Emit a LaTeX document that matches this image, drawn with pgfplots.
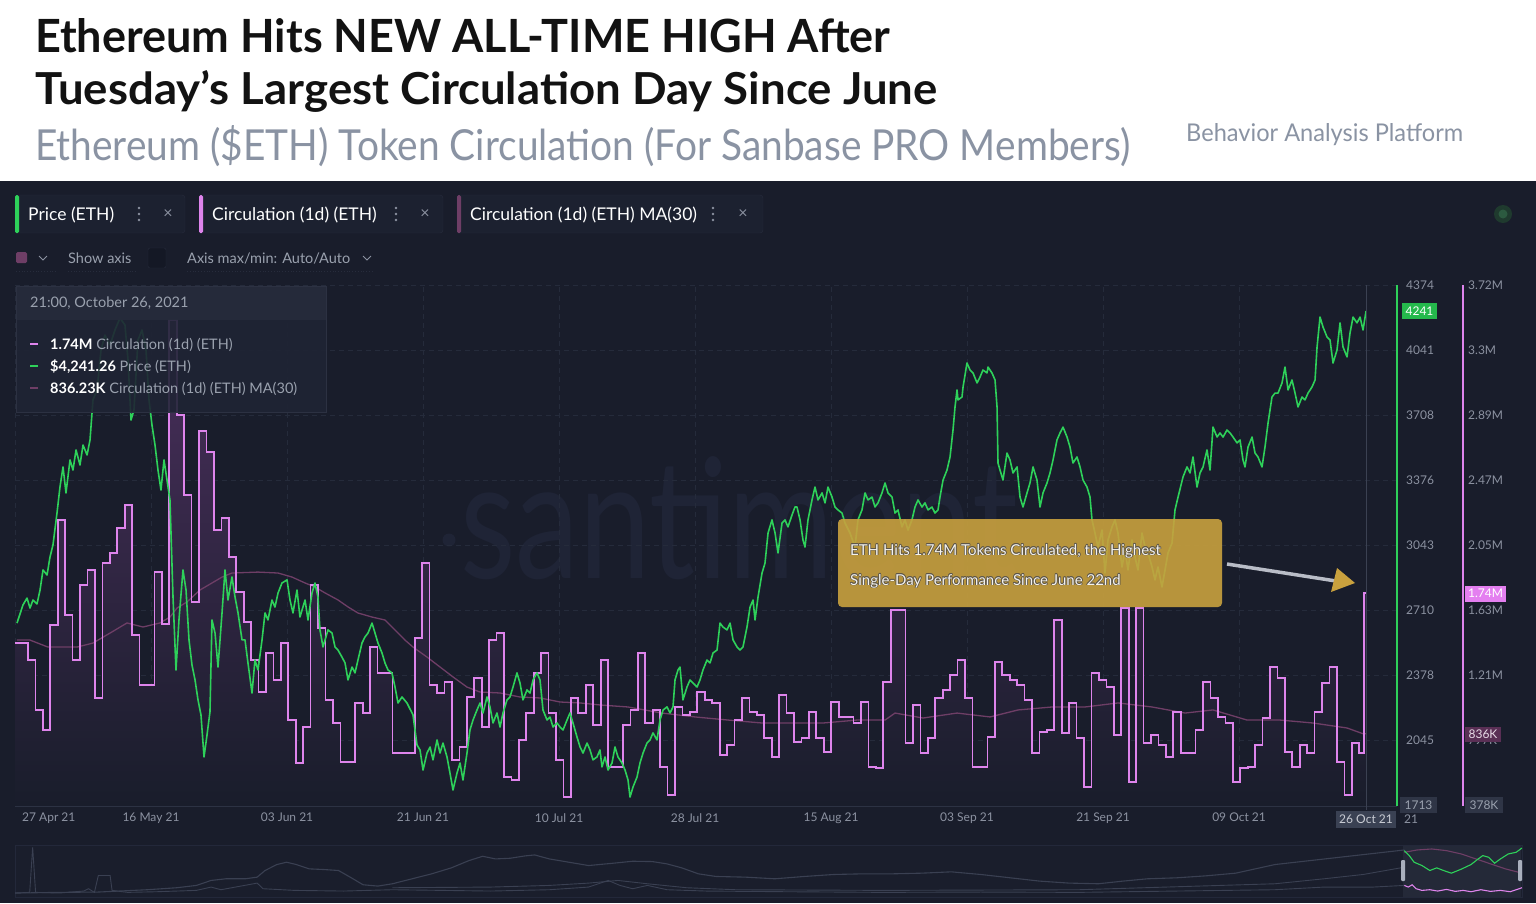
\documentclass[border=0pt]{standalone}
\usepackage{fontspec}
\setmainfont{Lato}
\usepackage{graphicx}
\usepackage{pgfplots}
\usepackage{pgfplotstable}
\pgfplotsset{compat=1.18}

\definecolor{bgdark}{HTML}{191D2B}
\definecolor{chipbg}{HTML}{1C2130}
\definecolor{chipborder}{HTML}{272C3C}
\definecolor{gridc}{HTML}{252B3B}
\definecolor{axisc}{HTML}{2C3243}
\definecolor{ticktext}{HTML}{8C92A1}
\definecolor{ethgreen}{HTML}{2ED15A}
\definecolor{badgegreen}{HTML}{25B94C}
\definecolor{circpink}{HTML}{DE84EC}
\definecolor{mamauve}{HTML}{6E3E66}
\definecolor{gold}{HTML}{C9A13E}
\definecolor{subgray}{HTML}{8A93A3}
\definecolor{titleblack}{HTML}{121212}
\definecolor{fillpurple}{HTML}{4A2F5C}
\definecolor{tipbg}{HTML}{1F2434}
\definecolor{tiphead}{HTML}{262B3B}
\definecolor{tiptext}{HTML}{9AA1AE}
\definecolor{navwin}{HTML}{242938}
\definecolor{navgray}{HTML}{3A4052}
\definecolor{wmark}{HTML}{1F2436}
\definecolor{statca}{HTML}{1F3A2E}
\definecolor{statcb}{HTML}{2C5A40}
\definecolor{cursorc}{HTML}{3B4152}
\definecolor{badgegray}{HTML}{2F3546}
\definecolor{badgepink}{HTML}{E47FF0}
\definecolor{badgemauve}{HTML}{5A2F55}
\definecolor{badgemtext}{HTML}{E8DCE8}
\definecolor{datebox}{HTML}{3A4153}
\definecolor{dateboxtext}{HTML}{C9CCD4}
\definecolor{outlinec}{HTML}{5C5548}
\definecolor{anntext}{HTML}{F4F2EC}
\definecolor{arrowgray}{HTML}{B9BDC7}
\definecolor{tipborder}{HTML}{2C3142}
\definecolor{navbg}{HTML}{1A1E2C}
\definecolor{navborder}{HTML}{23283A}
\definecolor{handlec}{HTML}{A9AFBD}
\definecolor{checkbg}{HTML}{141825}

\newcommand\tickfont{\fontsize{12}{14}\selectfont}
\newcommand\uifont{\fontsize{14.5}{17}\selectfont}

\pgfplotstableread{
d p
0.67 2644
1.48 2737
2.02 2772
2.42 2721
2.82 2762
3.36 2742
3.77 2813
4.17 2916
4.71 2890
5.11 2982
5.51 3044
6.05 3207
6.45 3340
6.86 3443
7.26 3310
7.80 3479
8.20 3427
8.61 3530
9.14 3453
9.55 3555
10.09 3504
10.49 3581
10.89 3786
11.43 3837
11.97 4041
12.50 4118
13.18 4067
13.85 4144
14.52 4205
15.19 4169
15.60 3990
16.00 3683
16.40 3734
16.94 4093
17.48 4144
18.02 4041
18.42 3786
18.82 3658
19.23 3555
19.63 3427
20.03 3325
20.44 3479
20.84 3376
21.24 3274
21.65 2777
22.05 2404
22.45 2660
22.99 2916
23.40 2813
23.80 2558
24.20 2430
24.61 2353
25.01 2251
25.41 2174
25.82 1959
26.22 2071
26.62 2190
26.89 2660
27.30 2593
27.70 2419
28.24 2696
28.64 2916
29.04 2762
29.58 2880
29.99 2777
30.39 2696
30.93 2558
31.33 2558
31.73 2440
32.27 2286
32.67 2455
33.08 2404
33.62 2558
34.02 2696
34.42 2660
34.96 2762
35.36 2726
35.77 2798
36.30 2849
36.98 2865
37.38 2762
37.78 2696
38.32 2813
38.72 2675
39.40 2762
39.80 2660
40.34 2798
40.74 2849
41.14 2777
41.41 2609
41.82 2522
42.49 2609
43.03 2593
43.43 2522
43.83 2506
44.37 2470
44.78 2440
45.18 2353
45.72 2419
46.12 2389
46.52 2455
47.06 2542
47.46 2573
47.87 2593
48.41 2644
48.81 2593
49.21 2542
49.75 2491
50.15 2440
50.56 2404
51.09 2389
51.50 2317
51.90 2235
52.44 2266
53.11 2235
53.92 2174
54.46 2020
54.86 1995
55.27 1892
55.80 1979
56.21 2010
56.61 1944
57.15 2046
57.55 1979
57.95 2030
58.49 1959
58.89 1877
59.30 1790
59.84 1877
60.24 1928
60.64 1841
61.18 1979
61.58 2097
61.99 2148
62.52 2199
62.93 2235
63.33 2184
63.87 2266
64.27 2215
64.68 2133
65.21 2184
65.62 2112
66.02 2184
66.56 2251
66.96 2266
67.37 2317
67.90 2389
68.31 2337
68.71 2251
69.25 2302
69.65 2286
70.06 2353
70.59 2389
71.00 2353
71.40 2199
71.94 2148
72.34 2163
72.75 2112
73.28 2133
73.69 2112
74.09 2097
74.63 2148
75.03 2184
75.43 2133
75.97 2061
76.38 2010
76.78 1979
77.32 2030
77.72 1995
78.12 1944
78.66 1959
79.06 1995
79.33 1908
79.74 1959
80.14 1892
80.68 1928
81.08 2010
81.48 1959
82.02 1928
82.43 1892
82.83 1841
83.10 1754
83.50 1805
84.04 1856
84.44 1928
84.85 1979
85.38 2030
85.79 2046
86.19 2082
86.73 2046
87.13 2148
87.54 2199
88.07 2215
88.48 2184
88.88 2215
89.15 2353
89.55 2404
89.82 2419
90.22 2251
90.76 2317
91.17 2353
91.57 2337
92.11 2317
92.51 2353
92.91 2404
93.45 2455
93.86 2440
94.26 2491
94.80 2506
95.20 2644
95.60 2624
96.14 2609
96.55 2644
96.95 2558
97.49 2522
97.89 2506
98.29 2522
98.83 2624
99.24 2726
99.64 2762
99.91 2660
100.31 2777
100.85 2900
101.25 2951
101.66 3105
102.19 3172
102.60 3105
103.00 3003
103.54 3156
103.94 3172
104.34 3136
104.88 3197
105.28 3238
105.55 3238
105.96 3172
106.36 3069
106.63 3033
107.03 3172
107.57 3274
107.97 3340
108.38 3274
108.92 3310
109.32 3259
109.72 3340
110.26 3289
110.66 3238
111.07 3223
111.60 3207
112.01 3156
112.68 3105
113.35 3033
113.75 3172
114.29 3223
114.70 3310
115.10 3274
115.64 3289
116.04 3238
116.44 3259
116.98 3310
117.39 3361
117.79 3310
118.33 3289
118.73 3207
119.13 3223
119.67 3136
120.07 3172
120.48 3120
121.01 3172
121.42 3238
121.82 3274
122.36 3238
122.76 3259
123.17 3223
123.70 3238
124.11 3207
124.51 3223
124.78 3289
125.19 3376
125.72 3427
126.13 3494
126.53 3632
126.80 3750
127.07 3837
127.20 3786
127.74 3801
127.88 3852
128.41 3975
128.82 3939
129.22 3924
129.76 3873
130.16 3903
130.56 3939
131.10 3924
131.24 3954
131.77 3924
132.18 3888
132.45 3750
132.58 3463
132.85 3427
133.25 3376
133.79 3514
134.19 3479
134.60 3412
135.14 3443
135.54 3289
135.94 3238
136.48 3310
136.88 3361
137.29 3443
137.82 3376
138.23 3238
138.63 3310
139.17 3361
139.57 3412
139.98 3479
140.51 3581
140.92 3617
141.32 3647
141.86 3596
142.26 3545
142.66 3463
143.20 3494
143.61 3443
144.01 3376
144.55 3340
144.95 3289
145.22 3172
145.62 3105
146.02 3033
146.56 3120
146.97 2900
147.37 3069
147.91 3136
148.31 3172
148.71 3105
149.25 2931
149.66 3018
150.06 2916
150.60 3069
151.00 2982
151.40 2916
151.94 3105
152.35 3033
152.75 3003
153.29 2931
153.69 2865
154.09 2931
154.63 2829
155.04 2916
155.44 3003
155.98 3054
156.38 3223
156.79 3289
157.46 3392
157.99 3443
158.40 3412
158.80 3494
159.34 3340
159.74 3412
160.15 3443
160.68 3530
161.09 3427
161.49 3647
162.03 3596
162.43 3617
162.84 3596
163.37 3632
163.78 3617
164.18 3596
164.72 3566
165.12 3581
165.52 3479
165.79 3443
166.20 3545
166.74 3596
167.14 3514
167.54 3494
168.08 3443
168.48 3545
168.89 3668
169.42 3801
169.83 3821
170.23 3821
170.77 3873
171.17 3954
171.58 3837
172.11 3888
172.52 3821
172.92 3750
173.46 3801
173.86 3786
174.27 3821
174.80 3852
175.21 3888
175.48 4057
175.88 4210
176.28 4159
176.82 4108
177.22 4093
177.63 3975
178.16 4041
178.57 4180
178.97 4057
179.51 4006
179.91 4128
180.32 4210
180.85 4180
181.26 4210
181.66 4144
182.07 4241
}\pricetable

\pgfplotstableread{
d c
0.15 1419
1.15 1419
2.15 1310
3.15 989
4.15 860
5.15 1535
6.15 2210
7.15 1599
8.15 1310
9.15 1792
10.15 1888
11.15 1066
12.15 1933
13.15 1998
14.15 2158
15.15 2306
16.15 1471
17.15 1149
18.15 1149
19.15 1875
20.15 1541
21.15 3495
22.15 2885
23.15 2370
24.15 1683
25.15 2782
26.15 2647
27.15 2145
28.15 2223
29.15 1972
30.15 1747
31.15 1554
32.15 1310
33.15 1104
34.15 1355
35.15 1181
36.15 1419
37.15 924
38.15 648
39.15 879
40.15 1792
41.15 1516
42.15 1053
43.15 905
44.15 654
45.15 654
46.15 1034
47.15 969
48.15 1393
49.15 1226
50.15 1226
51.15 712
52.15 712
53.15 712
54.15 1451
55.15 1933
56.15 1149
57.15 1098
58.15 1169
59.15 667
60.15 751
61.15 1072
62.15 1194
63.15 879
64.15 1438
65.15 1483
66.15 558
67.15 539
68.15 796
69.15 969
70.15 1226
71.15 1355
72.15 969
73.15 667
74.15 429
75.15 1066
76.15 969
77.15 1149
78.15 892
79.15 1310
80.15 622
81.15 622
82.15 892
83.15 989
84.15 1355
85.15 905
86.15 989
87.15 622
88.15 442
89.15 1008
90.15 956
91.15 976
92.15 1104
93.15 1053
94.15 1034
95.15 699
96.15 764
97.15 924
98.15 1066
99.15 976
100.15 956
101.15 809
102.15 686
103.15 1085
104.15 969
105.15 783
106.15 809
107.15 976
108.15 809
109.15 719
110.15 1040
111.15 944
112.15 944
113.15 905
114.15 1040
115.15 622
116.15 616
117.15 1169
118.15 1631
119.15 1631
120.15 776
121.15 1021
122.15 712
123.15 809
124.15 1066
125.15 1117
126.15 1214
127.15 1310
128.15 1066
129.15 622
130.15 622
131.15 815
132.15 1297
133.15 1214
134.15 1181
135.15 1149
136.15 1053
137.15 712
138.15 847
139.15 860
140.15 1567
141.15 841
142.15 1034
143.15 809
144.15 494
145.15 1226
146.15 1181
147.15 1136
148.15 828
149.15 1644
150.15 526
151.15 1644
152.15 776
153.15 828
154.15 764
155.15 686
156.15 976
157.15 712
158.15 712
159.15 860
160.15 1169
161.15 1066
162.15 944
163.15 905
164.15 526
165.15 616
166.15 622
167.15 764
168.15 937
169.15 1265
170.15 1194
171.15 719
172.15 622
173.15 764
174.15 712
175.15 976
176.15 1162
177.15 1265
178.15 654
179.15 442
180.15 776
181.15 712
181.80 1740
182.10 1740
}\circtable

\pgfplotstableread{
d m
0.67 1438
2.42 1438
4.84 1393
8.74 1393
10.89 1419
13.18 1483
15.46 1548
17.61 1522
19.90 1548
21.24 1586
22.19 1644
23.53 1683
25.28 1760
26.89 1805
28.24 1843
29.58 1869
33.08 1875
35.77 1869
37.65 1843
39.40 1805
40.74 1779
42.09 1741
43.83 1696
45.18 1651
46.52 1612
48.41 1586
50.15 1567
51.50 1503
52.84 1438
53.92 1393
55.80 1329
57.55 1265
59.30 1201
61.18 1136
62.93 1104
65.62 1098
68.31 1072
71.00 1066
73.69 1040
76.38 1034
79.06 1021
82.83 1008
87.40 969
91.84 944
96.28 924
100.85 905
105.28 905
109.05 905
113.62 924
117.39 924
118.73 969
122.49 937
127.07 969
131.51 944
135.27 989
139.84 1008
144.28 1008
148.72 1034
153.29 1008
157.73 969
161.49 989
166.06 924
170.50 924
174.94 905
179.51 873
181.66 836
182.07 836
}\matable

\begin{document}
\begin{tikzpicture}[x=1pt,y=-1pt]
\path[use as bounding box] (0,0) rectangle (1536,903);
\fill[white] (0,0) rectangle (1536,181);
\fill[bgdark] (0,181) rectangle (1536,903);

% ---------- header ----------
\node[anchor=base west, inner sep=0pt, text=titleblack] at (35,52)
  {\resizebox{855pt}{34pt}{\fontsize{40}{48}\selectfont\bfseries Ethereum Hits NEW ALL-TIME HIGH After}};
\node[anchor=base west, inner sep=0pt, text=titleblack] at (35,104)
  {\resizebox{902pt}{34pt}{\fontsize{40}{48}\selectfont\bfseries Tuesday’s Largest Circulation Day Since June}};
\node[anchor=base west, inner sep=0pt, text=subgray] at (35,160)
  {\resizebox{1095pt}{35pt}{\fontsize{40}{48}\selectfont Ethereum (\$ETH) Token Circulation (For Sanbase PRO Members)}};
\node[anchor=base west, inner sep=0pt, text=subgray] at (1186,141)
  {\resizebox{277pt}{18pt}{\fontsize{24}{28}\selectfont Behavior Analysis Platform}};

% ---------- chips ----------
\foreach \xa/\xb/\col/\lab/\xd/\xx in {15/185/ethgreen/{Price (ETH)}/139/168,
    199/443/circpink/{Circulation (1d) (ETH)}/396/425,
    457/763/mamauve/{Circulation (1d) (ETH) MA(30)}/713/743}{
  \filldraw[fill=chipbg, draw=chipborder, rounded corners=3pt] (\xa,195) rectangle (\xb,233);
  \fill[\col, rounded corners=1.5pt] (\xa,195) rectangle (\xa+4,233);
  \node[anchor=base west, inner sep=0pt, text=white] at (\xa+13,220) {\fontsize{17.5}{20}\selectfont \lab};
  \fill[ticktext] (\xd,208) circle (1.3) (\xd,214) circle (1.3) (\xd,220) circle (1.3);
  \node[text=ticktext, inner sep=0pt] at (\xx,214) {\fontsize{16}{18}\selectfont ×};
}
% second row
\fill[mamauve, rounded corners=1.5pt] (16,252) rectangle (27,263);
\draw[ticktext, line width=0.9pt] (39,256) -- (43,260) -- (47,256);
\node[anchor=base west, inner sep=0pt, text=tiptext] at (68,263) {\uifont Show axis};
\filldraw[fill=checkbg, draw=chipborder, rounded corners=2pt] (148,248) rectangle (166,268);
\node[anchor=base west, inner sep=0pt, text=tiptext] at (187,263) {\uifont Axis max/min: Auto/Auto};
\draw[ticktext, line width=0.9pt] (363,256) -- (367,260) -- (371,256);
\draw[chipborder, dotted, line width=0.8pt] (16,271) -- (56,271) (68,271) -- (136,271) (187,271) -- (374,271);
% status circle
\fill[statca] (1503,214) circle (9);
\fill[statcb] (1503,214) circle (4.5);

% ---------- watermark ----------
\fill[wmark] (449,540) circle (6.5);
\node[anchor=base west, inner sep=0pt, text=wmark] at (460,578)
  {\scalebox{1}[1.3]{\fontsize{128}{130}\selectfont santiment}};

\begin{scope}[x=1cm,y=1cm]
% ---------- grid / x axis ----------
\begin{axis}[at={(15pt,-805pt)}, anchor=south west, scale only axis,
  width=1382pt, height=520pt,
  xmin=0.403, xmax=186.23, ymin=1713, ymax=4374,
  axis line style={draw=none}, major tick length=0pt,
  xtick={18.69,36.98,55.26,73.55,91.84,110.13,128.41,146.70,164.99},
  xticklabels={16 May 21,03 Jun 21,21 Jun 21,10 Jul 21,28 Jul 21,15 Aug 21,03 Sep 21,21 Sep 21,09 Oct 21},
  extra x ticks={0.403}, extra x tick labels={27 Apr 21},
  extra x tick style={grid=major, xticklabel style={anchor=north west, xshift=7pt}},
  ytick={2045,2378,2710,3043,3376,3708,4041,4374}, yticklabels={},
  xmajorgrids, ymajorgrids,
  major grid style={draw=gridc, dash pattern=on 5pt off 4pt, line width=0.8pt},
  xticklabel style={font=\tickfont, text=ticktext, inner sep=0pt, yshift=-8pt},
]
\addplot[draw=none, forget plot] coordinates {(1,2000)};
\end{axis}

% ---------- circulation axis ----------
\begin{axis}[at={(15pt,-805pt)}, anchor=south west, scale only axis,
  width=1448pt, height=520pt,
  xmin=0.403, xmax=195.10, ymin=378, ymax=3720,
  axis line style={draw=none}, major tick length=0pt,
  xtick=\empty,
  ytick={796,1213,1631,2049,2467,2885,3302,3720},
  yticklabels={797K,1.21M,1.63M,2.05M,2.47M,2.89M,3.3M,3.72M},
  yticklabel pos=right,
  yticklabel style={font=\tickfont, text=ticktext, anchor=west, inner sep=0pt, xshift=5pt},
]
\addplot[const plot, draw=none, top color=fillpurple, bottom color=bgdark, forget plot]
  table[x=d, y=c] {\circtable} \closedcycle;
\addplot[mamauve, line width=1.3pt, forget plot] table[x=d, y=m] {\matable};
\addplot[const plot, circpink, line width=1.7pt, forget plot] table[x=d, y=c] {\circtable};
\end{axis}

% ---------- price axis ----------
\begin{axis}[at={(15pt,-805pt)}, anchor=south west, scale only axis,
  width=1382pt, height=520pt,
  xmin=0.403, xmax=186.23, ymin=1713, ymax=4374,
  axis line style={draw=none}, major tick length=0pt,
  xtick=\empty,
  ytick={2045,2378,2710,3043,3376,3708,4041,4374},
  yticklabels={2045,2378,2710,3043,3376,3708,4041,4374},
  yticklabel pos=right,
  yticklabel style={font=\tickfont, text=ticktext, anchor=west, inner sep=0pt, xshift=9pt},
]
\addplot[ethgreen, line width=1.6pt, line join=round, forget plot] table[x=d, y=p] {\pricetable};
\end{axis}
\end{scope}

% axis lines, cursor
\draw[axisc, line width=1pt] (15,806) -- (1397,806);
\draw[cursorc, line width=0.8pt] (1366,285) -- (1366,810);
\draw[ethgreen, line width=1.5pt] (1397,285) -- (1397,806);
\draw[circpink, line width=1.5pt] (1463,285) -- (1463,806);

% badges
\node[fill=badgegreen, text=white, inner sep=0pt, minimum width=35pt, minimum height=16pt] at (1419.5,311) {\tickfont 4241};
\node[fill=badgegray, text=tiptext, inner sep=0pt, minimum width=37pt, minimum height=16pt] at (1418.5,805) {\tickfont 1713};
\node[fill=badgepink, text=white, inner sep=0pt, minimum width=41pt, minimum height=16pt] at (1485.5,593.5) {\tickfont 1.74M};
\node[fill=badgemauve, text=badgemtext, inner sep=0pt, minimum width=36pt, minimum height=15pt] at (1483,734.5) {\tickfont 836K};
\node[fill=badgegray, text=tiptext, inner sep=0pt, minimum width=38pt, minimum height=16pt] at (1484,805) {\tickfont 378K};
\node[fill=datebox, text=dateboxtext, inner sep=0pt, minimum width=60pt, minimum height=17pt] at (1366,819.5) {\tickfont 26 Oct 21};
\node[anchor=west, text=ticktext, inner sep=0pt] at (1404,819.5) {\tickfont 21};

% ---------- annotation ----------
\fill[gold, fill opacity=0.9, rounded corners=4pt] (838,519) rectangle (1222,607);
\foreach \dx/\dy in {-0.7/0,0.7/0,0/-0.7,0/0.7,-0.5/-0.5,0.5/0.5,-0.5/0.5,0.5/-0.5}{
  \node[anchor=base west, inner sep=0pt, text=outlinec] at (850+\dx,555+\dy)
    {\fontsize{15}{18}\selectfont ETH Hits 1.74M Tokens Circulated, the Highest};
  \node[anchor=base west, inner sep=0pt, text=outlinec] at (850+\dx,585+\dy)
    {\fontsize{15}{18}\selectfont Single-Day Performance Since June 22nd};
}
\node[anchor=base west, inner sep=0pt, text=anntext] at (850,555)
  {\fontsize{15}{18}\selectfont ETH Hits 1.74M Tokens Circulated, the Highest};
\node[anchor=base west, inner sep=0pt, text=anntext] at (850,585)
  {\fontsize{15}{18}\selectfont Single-Day Performance Since June 22nd};
\draw[arrowgray, line width=3.5pt] (1227,564) -- (1336,581);
\fill[gold] (1337,568) -- (1355,583) -- (1331,592) -- cycle;

% ---------- tooltip ----------
\fill[tipbg, fill opacity=0.9] (16,286) rectangle (326,412);
\fill[tiphead, fill opacity=0.95] (16,286) rectangle (326,320);
\draw[tipborder, line width=0.8pt] (16,286) rectangle (326,412);
\node[anchor=base west, inner sep=0pt, text=tiptext] at (30,307) {\uifont 21:00, October 26, 2021};
\draw[circpink, line width=2.2pt] (30,344) -- (38,344);
\draw[ethgreen, line width=2.2pt] (30,366) -- (38,366);
\draw[mamauve, line width=2.2pt] (30,388) -- (38,388);
\node[anchor=base west, inner sep=0pt, text=tiptext] at (50,349) {\uifont \textcolor{white}{\bfseries 1.74M} Circulation (1d) (ETH)};
\node[anchor=base west, inner sep=0pt, text=tiptext] at (50,371) {\uifont \textcolor{white}{\bfseries \$4,241.26} Price (ETH)};
\node[anchor=base west, inner sep=0pt, text=tiptext] at (50,393) {\uifont \textcolor{white}{\bfseries 836.23K} Circulation (1d) (ETH) MA(30)};

% ---------- navigator ----------
\fill[navbg] (15,845) rectangle (1522,897);
\fill[navwin] (1403,845) rectangle (1521,897);
\draw[navborder, line width=0.8pt] (15,845) rectangle (1522,897);
\begin{scope}[x=1cm,y=1cm]
\begin{axis}[at={(15pt,-897pt)}, anchor=south west, scale only axis,
  width=1507pt, height=53pt, xmin=15, xmax=1552, ymin=0, ymax=160,
  hide axis, clip=true]
\addplot[navgray, line width=1.1pt, forget plot] coordinates {
(15,12) (60,14) (100,15) (150,22) (180,28) (200,35) (215,50) (230,55) (250,55) (262,60)
(270,80) (282,98) (292,105) (302,98) (315,85) (330,83) (345,80) (358,58) (370,37) (385,33)
(400,40) (420,55) (440,70) (460,88) (478,110) (492,123) (505,115) (520,117) (535,124) (545,127)
(560,115) (580,105) (600,95) (625,102) (645,108) (665,107) (680,100) (695,88) (712,70) (730,62)
(760,60) (790,55) (820,62) (850,68) (880,70) (910,70) (940,72) (970,76) (1000,68) (1030,58)
(1060,48) (1090,42) (1120,40) (1145,48) (1170,55) (1200,58) (1230,64) (1260,72) (1280,85) (1300,98)
(1330,108) (1360,118) (1390,128) (1420,138) (1432,142)};
\addplot[navgray, line width=0.9pt, forget plot] coordinates {
(15,12) (30,14) (33,150) (36,14) (60,12) (85,18) (90,25) (96,14) (100,65) (112,65) (114,20)
(130,14) (160,16) (200,20) (215,30) (225,22) (262,42) (268,25) (300,20) (350,18) (400,22)
(450,20) (500,18) (560,22) (600,30) (620,50) (632,35) (645,25) (660,35) (680,22) (720,18)
(800,16) (900,14) (1000,15) (1100,14) (1200,18) (1300,22) (1350,30) (1400,30) (1432,35)};
\addplot[navgray, line width=0.9pt, forget plot] coordinates {
(400,28) (500,30) (560,35) (600,42) (630,50) (660,40) (700,28) (750,22) (900,20) (1100,22)
(1300,40) (1350,55) (1390,68) (1432,90)};
\addplot[mamauve, line width=1.1pt, forget plot] coordinates {
(1432,135) (1445,142) (1460,145) (1475,140) (1490,130) (1505,115) (1520,100) (1535,85) (1552,72)};
\addplot[circpink, line width=1.1pt, forget plot] coordinates {
(1432,35) (1436,30) (1440,37) (1444,25) (1450,20) (1458,22) (1466,18) (1475,23) (1484,17)
(1492,20) (1500,16) (1510,22) (1520,17) (1530,20) (1540,16) (1552,28)};
\addplot[ethgreen, line width=1.1pt, forget plot] coordinates {
(1432,140) (1437,125) (1442,105) (1450,95) (1458,80) (1465,88) (1472,80) (1480,72) (1490,84)
(1500,98) (1506,112) (1512,125) (1518,120) (1524,102) (1530,115) (1538,130) (1546,135) (1552,148)};
\end{axis}
\end{scope}
\fill[handlec, rounded corners=1pt] (1401,860) rectangle (1405,881);
\fill[handlec, rounded corners=1pt] (1518,860) rectangle (1522,881);
\end{tikzpicture}
\end{document}
